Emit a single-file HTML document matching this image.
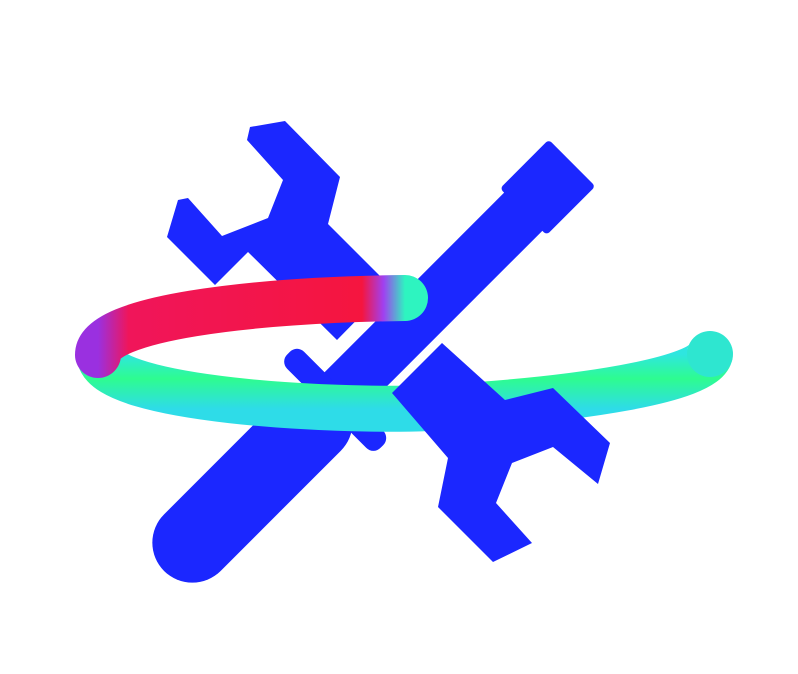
<!DOCTYPE html>
<html><head><style>html,body{margin:0;padding:0;background:#fff;width:798px;height:674px;overflow:hidden}</style></head>
<body>
<svg width="798" height="674" viewBox="0 0 798 674" xmlns="http://www.w3.org/2000/svg">
<defs>
<linearGradient id="redg" x1="0" y1="0" x2="1" y2="0">
<stop offset="0" stop-color="#9a30e0"/><stop offset="0.1" stop-color="#f0155a"/><stop offset="0.86" stop-color="#f5153f"/><stop offset="0.93" stop-color="#a040f0"/><stop offset="1" stop-color="#2ef4c0"/>
</linearGradient>
<linearGradient id="greeng" x1="0" y1="0" x2="0" y2="1">
<stop offset="0" stop-color="#2ee6e0"/><stop offset="0.45" stop-color="#2efc90"/><stop offset="1" stop-color="#2edce8"/>
</linearGradient>
</defs>
<polygon fill="#1b27ff" points="285,121 340,177 328,224 390,286 337,340 248,252 215,285 167,237 178,200 188,198 222,236 268,218 283,180 247,140 250,127"/>
<g fill="#1b27ff" transform="translate(367,368) rotate(-45)">
<rect x="-287" y="-40" width="250" height="80" rx="40"/>
<rect x="-50" y="-27" width="275" height="54"/>
<rect x="-57" y="-66" width="24" height="132" rx="10"/>
<rect x="221" y="-33" width="69" height="66" rx="4"/>
</g>
<path d="M 100 358 C 110 400, 330 412, 430 408 C 580 400, 705 380, 710 354" fill="none" stroke="url(#greeng)" stroke-width="46" stroke-linecap="butt"/>
<path d="M 405 298 C 250 300, 98 318, 98 355" fill="none" stroke="url(#redg)" stroke-width="46" stroke-linecap="round"/>
<circle cx="710" cy="354" r="23" fill="#2ee6d0"/>
<polygon fill="#1b27ff" points="442,343 505,400 553,388 610,443 598,484 553,447 512,463 496,503 532,543 493,562 438,507 448,458 392,393"/>
</svg>
</body></html>
